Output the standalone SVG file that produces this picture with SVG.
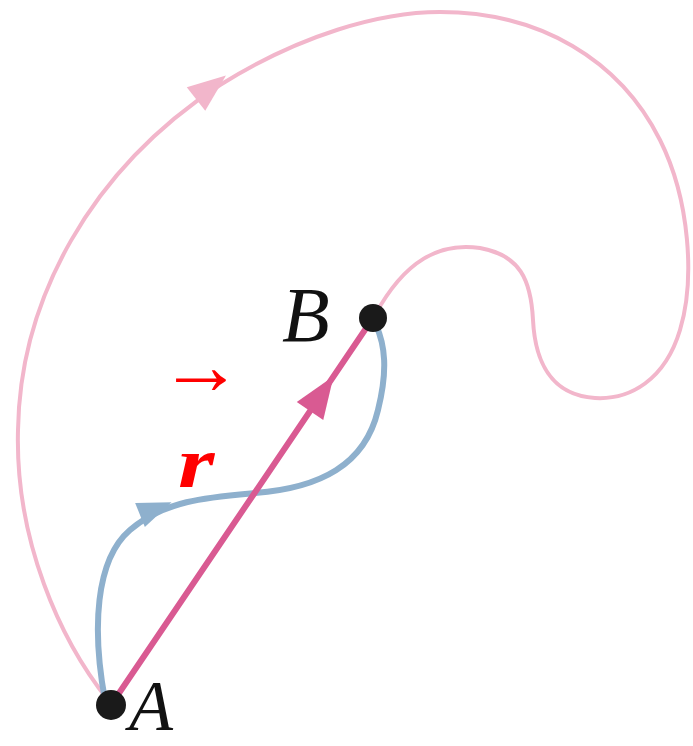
<svg xmlns="http://www.w3.org/2000/svg" width="693" height="746" viewBox="0 0 693 746">
<style>
.outer{fill:none;stroke:#f2b6cb;stroke-width:4;stroke-linecap:round}
.disp{fill:none;stroke:#d95a92;stroke-width:6;stroke-linecap:round}
.blue{fill:none;stroke:#8eb0cd;stroke-width:6;stroke-linecap:round}
.lbl{font-family:"Liberation Serif","DejaVu Serif",serif;font-style:italic;fill:#111}
.red{font-family:"Liberation Serif","DejaVu Serif",serif;fill:#ff0000}
</style>
<rect width="693" height="746" fill="#ffffff"/>
<g id="connectors">
  <path id="outer-path" class="outer" d="M108,700 C60,640 15,540 18,430 C20,300 90,170 220,85 C300,35 380,12 440,12 C540,12 620,60 660,140 C690,200 695,280 680,330 C665,380 630,400 595,398 C550,395 535,360 533,320 C531,280 520,255 480,248 C440,242 405,260 375,315"/>
  <polygon fill="#f2b6cb" points="0,-15 38,0 0,15" transform="translate(196,99) rotate(-38)"/>
  <path id="blue-path" class="blue" d="M105,700 C92,630 95,560 130,530 C165,500 210,497 255,493 C320,488 365,465 378,410 C388,370 385,345 376,325"/>
  <polygon fill="#8eb0cd" points="0,-13 34,0 0,13" transform="translate(140,515) rotate(-22)"/>
  <path id="displacement" class="disp" d="M111,705 L373,318"/>
  <polygon fill="#d95a92" points="0,-16 42,0 0,16" transform="translate(310,411) rotate(-55.9)"/>
</g>
<g id="node-A">
  <circle cx="111" cy="705" r="15" fill="#1a1a1a"/>
  <text class="lbl" x="129" y="730" font-size="72">A</text>
</g>
<g id="node-B">
  <circle cx="373" cy="318" r="14" fill="#1a1a1a"/>
  <text class="lbl" x="282" y="341" font-size="78">B</text>
</g>
<g id="label-r">
  <text class="red" x="201" y="394" font-size="84" font-weight="bold" text-anchor="middle">→</text>
  <text class="red" font-size="72" font-weight="bold" font-style="italic" transform="translate(178,487) scale(1.3,1)">r</text>
</g>
</svg>
